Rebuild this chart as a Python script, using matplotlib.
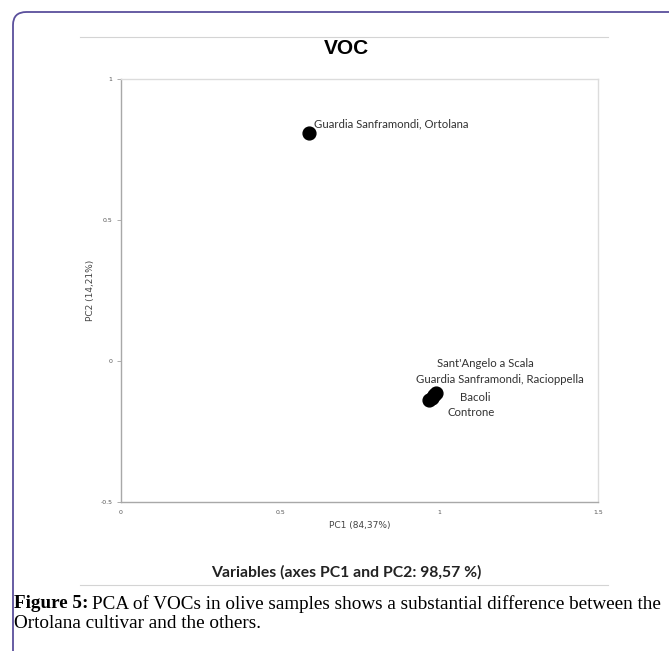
"""PCA of VOCs in olive samples: variables plot (PC1 vs PC2)."""

import matplotlib.pyplot as plt
from matplotlib.patches import FancyBboxPatch
from matplotlib.lines import Line2D

# variable coordinates on the first two principal components
LABELS = [
    "Guardia Sanframondi, Ortolana",
    "Sant'Angelo a Scala",
    "Guardia Sanframondi, Racioppella",
    "Bacoli",
    "Controne",
]
PC1 = [0.59, 0.99, 0.985, 0.978, 0.97]
PC2 = [0.81, -0.113, -0.12, -0.13, -0.14]

# label offsets in points (placement only)
LABEL_OFFSETS = [(4, 6), (36, 21.5), (47.5, 11), (31, 0), (30, -9)]
LABEL_HA = ["left", "center", "center", "center", "center"]

X_TICKS = [0, 0.5, 1, 1.5]
X_TICK_LABELS = ["0", "0.5", "1", "1.5"]
Y_TICKS = [-0.5, 0, 0.5, 1]
Y_TICK_LABELS = ["-0.5", "0", "0.5", "1"]

W, H = 669, 651
fig = plt.figure(figsize=(W / 100, H / 100), dpi=100)

# purple page border (rounded top-left corner, open to the right/bottom)
border = FancyBboxPatch((13 / W, -0.1), 1.2, 1 - 12 / H + 0.1,
                        boxstyle="round,pad=0,rounding_size=0.02",
                        transform=fig.transFigure, fill=False,
                        edgecolor="#5a4f9c", linewidth=1.3, clip_on=False)
fig.patches.append(border)

# thin grey rules above the title and below the subtitle
for yy in (37, 585):
    fig.add_artist(Line2D([80 / W, 608 / W], [1 - yy / H, 1 - yy / H],
                          transform=fig.transFigure, color="#d4d4d4", lw=0.8))

ax = fig.add_axes([121 / W, 1 - 502 / H, (598 - 121) / W, (502 - 79) / H])
ax.scatter(PC1, PC2, s=85, color="black", zorder=3)
for lab, x, y, off, ha in zip(LABELS, PC1, PC2, LABEL_OFFSETS, LABEL_HA):
    ax.annotate(lab, (x, y), xytext=off, textcoords="offset points",
                ha=ha, va="center", fontsize=8.2, family="Lato",
                color="#333333")

ax.set_xlim(0, 1.5)
ax.set_ylim(-0.5, 1)
ax.set_xticks(X_TICKS, X_TICK_LABELS)
ax.set_yticks(Y_TICKS, Y_TICK_LABELS)
ax.tick_params(axis="both", labelsize=4.5, colors="#555555")
ax.tick_params(axis="x", length=0, pad=6)
ax.tick_params(axis="y", length=3, width=0.6, color="#a0a0a0", pad=3)
ax.spines["left"].set_color("#a8a8a8")
ax.spines["bottom"].set_color("#a8a8a8")
ax.spines["top"].set_color("#dcdcdc")
ax.spines["right"].set_color("#dcdcdc")
for sp in ax.spines.values():
    sp.set_linewidth(1.0)
ax.set_xlabel("PC1 (84,37%)", fontsize=6.5, color="#444444", labelpad=4)
ax.set_ylabel("PC2 (14,21%)", fontsize=6.5, color="#444444", labelpad=4)

fig.text(346 / W, 1 - 48 / H, "VOC", ha="center", va="center",
         fontsize=15, fontweight="bold", family="Liberation Sans")
fig.text(346 / W, 1 - 572 / H, "Variables (axes PC1 and PC2: 98,57 %)",
         ha="center", va="center", fontsize=11.3, fontweight="bold",
         family="Lato", color="#222222")

cap1 = fig.text(14 / W, 1 - 604 / H, "Figure 5:", ha="left", va="center",
                fontsize=13.8, fontweight="bold", family="Liberation Serif")
fig.canvas.draw()
bb = cap1.get_window_extent()
fig.text(bb.x1 / W + 4 / W, 1 - 604 / H,
         "PCA of VOCs in olive samples shows a substantial difference between the",
         ha="left", va="center", fontsize=13.8, family="Liberation Serif")
fig.text(14 / W, 1 - 624 / H, "Ortolana cultivar and the others.",
         ha="left", va="center", fontsize=13.8, family="Liberation Serif")

fig.savefig("out.png", dpi=100)
